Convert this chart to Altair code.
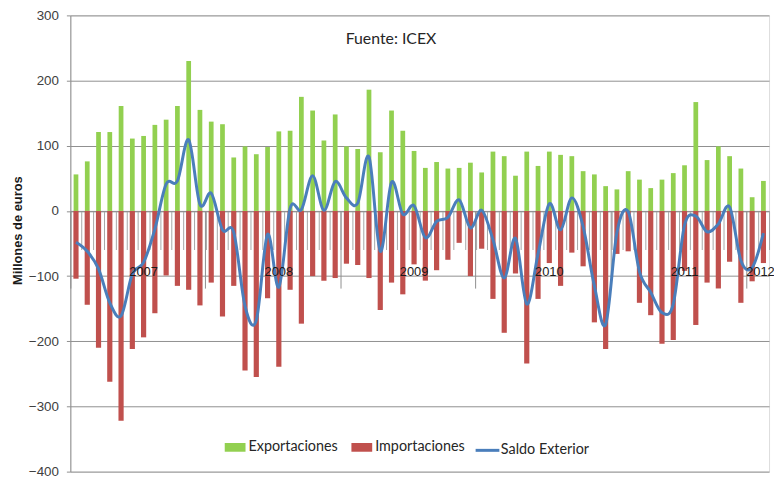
import altair as alt
import pandas as pd

meses = [p.strftime("%Y-%m") for p in pd.period_range("2007-01", "2012-02", freq="M")]

exportaciones = [56, 76, 121, 121, 161, 111, 115, 132, 140, 161,
                 230, 155, 137, 133, 82, 99, 87, 98, 122, 123,
                 175, 154, 108, 148, 99, 95, 186, 90, 154, 123,
                 92, 66, 75, 65, 66, 74, 59, 91, 84, 54,
                 91, 69, 91, 86, 84, 61, 56, 38, 33, 61,
                 48, 35, 48, 58, 70, 167, 78, 99, 84, 65,
                 21, 46]

importaciones = [-104, -144, -210, -262, -322, -212, -194, -157, -99, -115,
                 -121, -145, -110, -162, -115, -245, -255, -134, -239, -121,
                 -173, -100, -107, -103, -81, -83, -103, -152, -110, -128,
                 -82, -107, -91, -75, -49, -100, -58, -135, -187, -96,
                 -234, -135, -80, -115, -64, -85, -171, -212, -66, -62,
                 -141, -160, -204, -198, -92, -175, -110, -119, -78, -141,
                 -108, -80]

saldo = [-48, -62, -89, -141, -161, -97, -79, -28, 41, 46,
         109, 10, 27, -29, -33, -146, -168, -36, -117, 4,
         2, 54, 1, 45, 20, 12, 83, -62, 44, -5,
         8, -41, -16, -10, 17, -26, 1, -44, -103, -42,
         -143, -66, 11, -29, 20, -24, -115, -174, -33, -1,
         -93, -125, -156, -143, -22, -8, -32, -20, 6, -76,
         -87, -34]

series = ["Exportaciones", "Importaciones", "Saldo Exterior"]
colores = ["#92D050", "#C0504D", "#4A7EBB"]

marcas_anio = ["2007-01", "2008-01", "2009-01", "2010-01", "2011-01", "2012-01"]
etiquetas_anio = ["2007-07", "2008-07", "2009-07", "2010-07", "2011-07", "2012-02"]

df = pd.concat([
    pd.DataFrame({"mes": meses, "serie": series[0], "valor": exportaciones}),
    pd.DataFrame({"mes": meses, "serie": series[1], "valor": importaciones}),
    pd.DataFrame({"mes": meses, "serie": series[2], "valor": saldo}),
])

W, H = 706, 461
OFF = -(H * 400 / 700)
GRIS = "#8f8f8f"

xscale = alt.Scale(paddingInner=0, paddingOuter=0)

yenc = alt.Y(
    "valor:Q",
    scale=alt.Scale(domain=[-400, 300], nice=False, zero=False),
    axis=alt.Axis(
        values=list(range(-400, 301, 100)), grid=True, gridColor=GRIS, gridWidth=1,
        domainColor=GRIS, tickColor=GRIS, tickSize=4,
        labelFont="Liberation Sans", labelFontSize=13.5, labelColor="#404040", labelPadding=8,
        title="Millones de euros", titleFont="Liberation Sans", titleFontSize=13,
        titleFontWeight="bold", titleColor="#1a1a1a", titleX=-53, titleY=217,
        titleAngle=270, titleBaseline="middle",
    ),
)

axisA = alt.Axis(orient="bottom", offset=OFF, tickBand="extent", tickSize=39, tickColor="#a6a6a6",
                 domain=True, domainColor=GRIS, labels=False, grid=False, title=None)
axisB = alt.Axis(orient="bottom", offset=OFF, values=marcas_anio, bandPosition=0, tickSize=78,
                 tickColor=GRIS, domain=False, labels=False, grid=False, title=None)
axisC = alt.Axis(orient="bottom", offset=OFF, values=etiquetas_anio, bandPosition=0, ticks=False,
                 tickSize=0, domain=False, labelExpr="substring(datum.value, 0, 4)",
                 labelFont="Liberation Sans", labelFontSize=13, labelColor="#1a1a1a",
                 labelPadding=55, labelAngle=0, labelOverlap=False, labelBound=False,
                 labelOffset={"condition": {"test": "datum.value == '2012-02'", "value": -3}, "value": 0},
                 grid=False, title=None, zindex=2)

leyenda_barras = alt.Legend(orient="none", legendX=156, legendY=426, direction="horizontal", title=None,
                            symbolType="M-1,-0.42H1V0.42H-1Z", symbolSize=441, symbolStrokeWidth=0,
                            labelFont="Lato", labelFontSize=14.5, labelColor="#262626", labelOffset=3,
                            columnPadding=13, padding=0)
leyenda_linea = alt.Legend(orient="none", legendX=408, legendY=426, direction="horizontal", title=None,
                           symbolType="stroke", symbolSize=576, symbolStrokeWidth=3,
                           labelFont="Lato", labelFontSize=14.5, labelColor="#262626", labelOffset=0,
                           padding=0)

color = alt.Color("serie:N", scale=alt.Scale(domain=series[:2], range=colores[:2]), legend=leyenda_barras)

exp = alt.Chart(df).transform_filter(alt.datum.serie == series[0]).mark_bar(width={"band": 0.42}).encode(
    x=alt.X("mes:O", scale=xscale, axis=axisA), y=yenc, color=color)
imp = alt.Chart(df).transform_filter(alt.datum.serie == series[1]).mark_bar(width={"band": 0.46}).encode(
    x=alt.X("mes:O", scale=xscale, axis=axisB), y=yenc, color=color)
lin = alt.Chart(df).transform_filter(alt.datum.serie == series[2]).mark_line(
    interpolate="cardinal", strokeWidth=3).encode(
    x=alt.X("mes:O", scale=xscale, axis=axisC), y=yenc,
    stroke=alt.Stroke("serie:N", scale=alt.Scale(domain=series[2:], range=colores[2:]), legend=leyenda_linea))

chart = alt.layer(exp, imp, lin).resolve_axis(x="independent").properties(
    width=W, height=H,
    autosize=alt.AutoSizeParams(type="none"),
    padding={"left": 63, "top": 5, "right": 5, "bottom": 5},
    title=alt.TitleParams("Fuente: ICEX", font="Lato", fontSize=16, fontWeight="normal", color="#262626",
                          anchor="middle", frame="group", dx=-29, dy=52, offset=0, baseline="alphabetic"),
).configure_view(strokeWidth=0).configure(background="white")

chart.save("out.html", embed_options={"renderer": "svg", "actions": False})
